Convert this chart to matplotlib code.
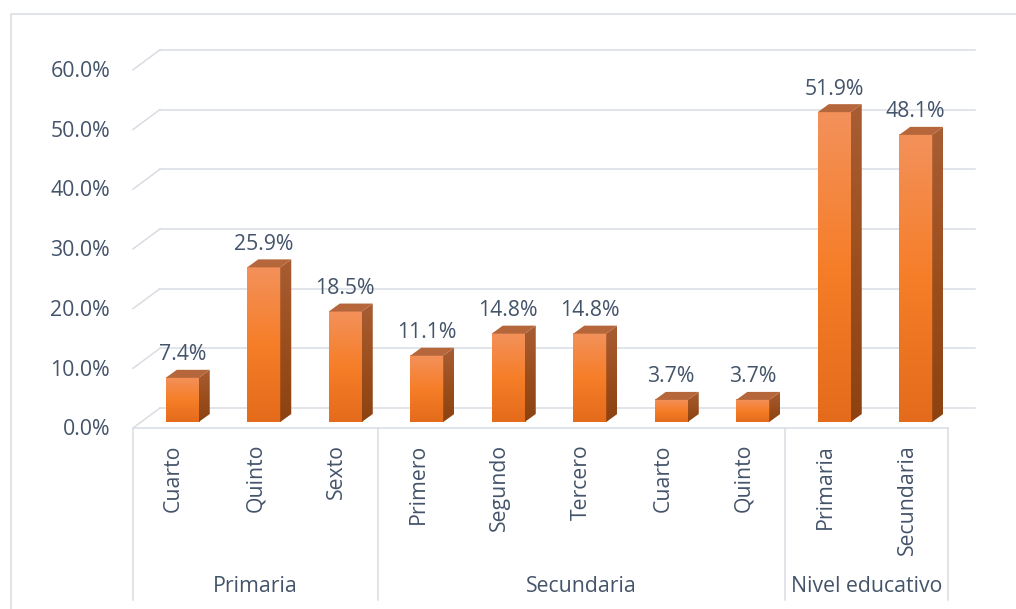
import numpy as np
import matplotlib
matplotlib.use("Agg")
import matplotlib.pyplot as plt
import matplotlib.transforms as mtransforms
from matplotlib.colors import LinearSegmentedColormap
from matplotlib.patches import Polygon
from matplotlib.lines import Line2D

# data
grados = ["Cuarto", "Quinto", "Sexto", "Primero", "Segundo", "Tercero",
          "Cuarto", "Quinto", "Primaria", "Secundaria"]
porcentajes = [7.4, 25.9, 18.5, 11.1, 14.8, 14.8, 3.7, 3.7, 51.9, 48.1]
grupos = ["Primaria", "Secundaria", "Nivel educativo"]
grupo_tamanos = [3, 5, 2]
yticks = [0, 10, 20, 30, 40, 50, 60]

plt.rcParams.update({"font.family": ["Open Sans", "DejaVu Sans"], "font.size": 15.3})
TXT = "#44546A"
GRID = "#D9DCE3"
W, H = 1016, 609
fig = plt.figure(figsize=(W / 100, H / 100), dpi=100)

# axes = plane of the bar fronts (pixel layout)
n = len(grados)
ax = fig.add_axes([141.5 / W, (H - 422) / H, 815 / W, 60 * 5.97 / H])
ax.set_xlim(0, n); ax.set_ylim(0, 60)
ax.axis("off")

def plane(dx, dy):
    return mtransforms.offset_copy(ax.transData, fig=fig, x=dx, y=dy, units="dots")

front = plane(-8.5, -6)   # floor front edge / tick plane
back = plane(18.5, 14)    # back wall
sx = 815 / n
sy = 5.97
bdx, bdy = 11 / sx, 8 / sy  # bar depth in data units

# gridlines on back wall + left diagonals
for v in yticks:
    ax.plot([0, n], [v, v], color=GRID, lw=1.1, transform=back, clip_on=False, zorder=1)
    p0 = front.transform((0, v)); p1 = back.transform((0, v))
    fig.add_artist(Line2D([p0[0] / W, p1[0] / W], [p0[1] / H, p1[1] / H], color=GRID, lw=1.1, zorder=1))
    ax.text(110 / W, v - 0.3, f"{v:.1f}%", transform=mtransforms.blended_transform_factory(fig.transFigure, front),
            ha="right", va="center", color=TXT)

# category axis box
ax.plot([0, n], [0, 0], color=GRID, lw=1.1, transform=front, clip_on=False, zorder=1)
sep_tr = mtransforms.blended_transform_factory(front, fig.transFigure)
edges = np.concatenate([[0], np.cumsum(grupo_tamanos)])
for e in edges:
    ax.plot([e, e], [(H - 428) / H, (H - 600) / H], color=GRID, lw=1.1, transform=sep_tr, clip_on=False)
for i, g in enumerate(grados):
    ax.text(i + 0.5, (H - 444) / H, g, transform=sep_tr, rotation=90, ha="center", va="top", color=TXT)
for k, g in enumerate(grupos):
    ax.text((edges[k] + edges[k + 1]) / 2, (H - 592) / H, g, transform=sep_tr,
            ha="center", va="baseline", color=TXT)

# outer chart border
fig.add_artist(Line2D([11 / W, 11 / W, 1.0], [0, (H - 14) / H, (H - 14) / H], color=GRID, lw=1.1))

# 3D bars
front_cmap = LinearSegmentedColormap.from_list("f", ["#E36B1B", "#F67E28", "#F3915B"])
side_cmap = LinearSegmentedColormap.from_list("s", ["#8C4211", "#9C4F1E", "#A85D33"])
grad = np.linspace(0, 1, 256).reshape(-1, 1)
bw = 0.405
for i, v in enumerate(porcentajes):
    x0, x1 = i + 0.5 - bw / 2, i + 0.5 + bw / 2
    ax.imshow(grad, cmap=front_cmap, origin="lower", extent=[x0, x1, 0, v], aspect="auto", zorder=3)
    side = Polygon([(x1, 0), (x1 + bdx, bdy), (x1 + bdx, v + bdy), (x1, v)], closed=True,
                   facecolor="none", edgecolor="none")
    ax.add_patch(side)
    im = ax.imshow(grad, cmap=side_cmap, origin="lower", extent=[x1, x1 + bdx, 0, v + bdy],
                   aspect="auto", zorder=3)
    im.set_clip_path(side)
    ax.add_patch(Polygon([(x0, v), (x1, v), (x1 + bdx, v + bdy), (x0 + bdx, v + bdy)], closed=True,
                         facecolor="#B5673B", edgecolor="none", zorder=3))
    ax.annotate(f"{v:.1f}%", (i + 0.5, v), xytext=(0, 17.5), textcoords="offset pixels",
                ha="center", va="baseline", color=TXT)

ax.set_xlim(0, n); ax.set_ylim(0, 60)
fig.savefig("out.png", dpi=100, facecolor="white")
